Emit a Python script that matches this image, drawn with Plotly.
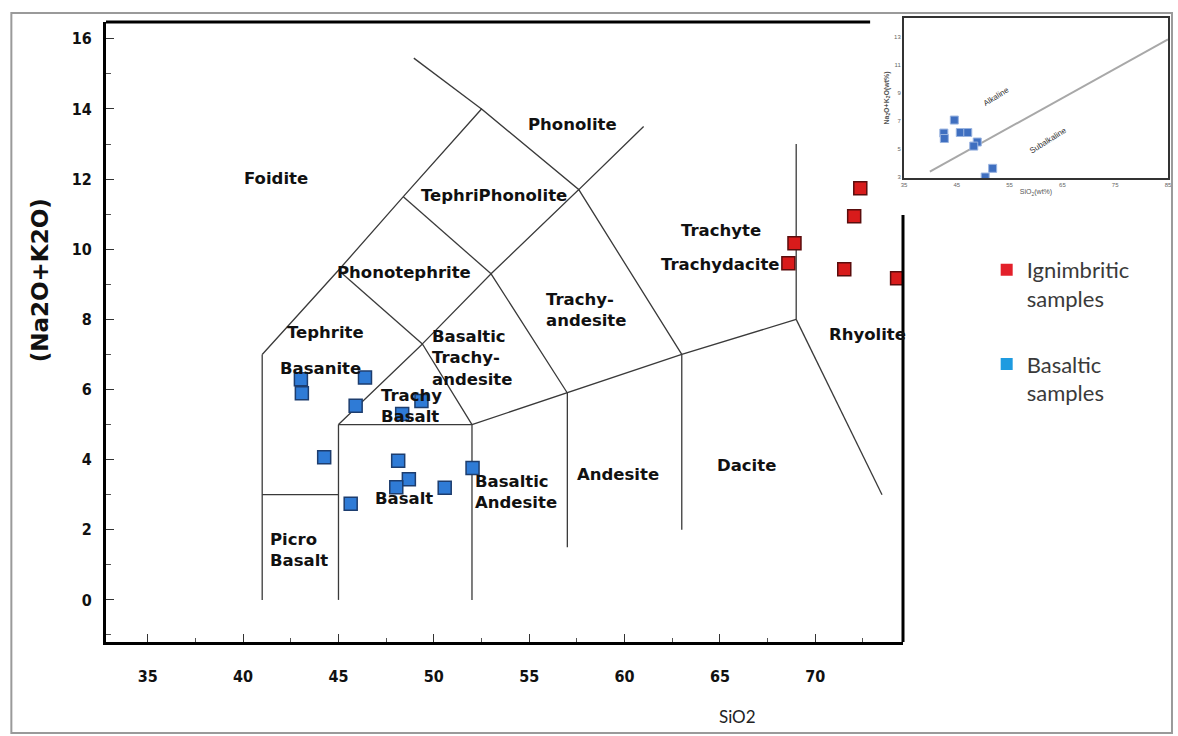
import plotly.graph_objects as go

# ---------------- data ----------------
ign_sio2 = [72.36, 72.04, 68.91, 68.59, 71.52, 74.29]
ign_alk = [11.74, 10.94, 10.17, 9.60, 9.43, 9.17]

bas_sio2 = [43.03, 43.08, 46.39, 45.90, 49.35, 48.34, 44.25, 48.13, 48.69, 48.03, 50.57, 52.03, 45.64]
bas_alk = [6.29, 5.89, 6.34, 5.54, 5.67, 5.30, 4.07, 3.97, 3.44, 3.21, 3.20, 3.76, 2.74]

inset_sio2 = [44.53, 42.55, 42.64, 45.66, 47.08, 48.87, 48.21, 51.79, 50.38]
inset_alk = [7.07, 6.14, 5.75, 6.18, 6.18, 5.50, 5.21, 3.62, 3.00]

divider_sio2 = [39.9, 85.0]
divider_alk = [3.38, 12.84]

# TAS field boundaries (SiO2, Na2O+K2O)
boundaries = [
    [(41, 0), (41, 7)],
    [(41, 3), (45, 3)],
    [(45, 0), (45, 5)],
    [(45, 5), (52, 5)],
    [(52, 0), (52, 5)],
    [(52, 5), (57, 5.9), (63, 7), (69, 8)],
    [(57, 1.5), (57, 5.9)],
    [(63, 2.0), (63, 7)],
    [(69, 8), (69, 13)],
    [(69, 8), (73.5, 3.0)],
    [(45, 5), (49.4, 7.3), (52, 5)],
    [(49.4, 7.3), (53, 9.3), (57, 5.9)],
    [(53, 9.3), (57.6, 11.7), (63, 7)],
    [(41, 7), (45, 9.4), (48.4, 11.5), (52.5, 14), (57.6, 11.7), (61, 13.5)],
    [(45, 9.4), (49.4, 7.3)],
    [(48.4, 11.5), (53, 9.3)],
    [(48.95, 15.45), (52.5, 14)],
]

field_names = ["Foidite", "Phonolite", "TephriPhonolite", "Phonotephrite",
               "Trachy-<br>andesite", "Tephrite", "Basaltic<br>Trachy-<br>andesite",
               "Basanite", "Trachy<br>Basalt", "Basalt", "Basaltic<br>Andesite",
               "Andesite", "Dacite", "Picro<br>Basalt", "Trachyte", "Trachydacite",
               "Rhyolite"]
field_sio2 = [41.74, 57.26, 53.18, 48.43, 57.99, 44.3, 51.98, 44.04, 48.85, 48.43,
              54.33, 59.66, 66.4, 42.94, 65.04, 64.99, 72.72]
field_alk = [12.02, 13.56, 11.54, 9.34, 8.26, 7.64, 6.89, 6.61, 5.53, 2.9,
             3.08, 3.59, 3.82, 1.42, 10.54, 9.57, 7.58]

x_ticks = [35, 40, 45, 50, 55, 60, 65, 70]
y_ticks = [0, 2, 4, 6, 8, 10, 12, 14, 16]
inset_x_ticks = [35, 45, 55, 65, 75, 85]
inset_y_ticks = [3, 5, 7, 9, 11, 13]

# ---------------- figure ----------------
bx, by = [], []
for seg in boundaries:
    for (sx, sy) in seg:
        bx.append(sx)
        by.append(sy)
    bx.append(None)
    by.append(None)

WIDE = "DejaVu Sans, Verdana, sans-serif"
COND = "DejaVu Sans Condensed, Liberation Sans Narrow, sans-serif"
SANS = "Liberation Sans, Arial, sans-serif"
LEG = "Lato, Liberation Sans, sans-serif"


def px_x(p):
    return (p - 106) / 1066.0


def px_y(p):
    return (642 - p) / 624.0


fig = go.Figure()
fig.add_trace(go.Scatter(x=bx, y=by, mode="lines", line=dict(color="#3a3a3a", width=1.3),
                         hoverinfo="skip", showlegend=False, xaxis="x", yaxis="y"))
fig.add_trace(go.Scatter(x=ign_sio2, y=ign_alk, mode="markers", showlegend=False,
                         marker=dict(symbol="square", size=13, color="#d81b1b",
                                     line=dict(color="#5a0d0d", width=1.5))))
fig.add_trace(go.Scatter(x=bas_sio2, y=bas_alk, mode="markers", showlegend=False,
                         marker=dict(symbol="square", size=13, color="#2f7bd6",
                                     line=dict(color="#1d3d6e", width=1.5))))
# legend entries
fig.add_trace(go.Scatter(x=[None], y=[None], mode="markers", name="Ignimbritic<br>samples",
                         legendgroup="a",
                         marker=dict(symbol="square", size=14, color="#e3202a")))
fig.add_trace(go.Scatter(x=[None], y=[None], mode="markers", name="Basaltic<br>samples",
                         legendgroup="b",
                         marker=dict(symbol="square", size=14, color="#1e9be0")))

# inset
fig.add_trace(go.Scatter(x=divider_sio2, y=divider_alk, mode="lines", xaxis="x2", yaxis="y2",
                         line=dict(color="#a8a8a8", width=2), showlegend=False, hoverinfo="skip"))
fig.add_trace(go.Scatter(x=inset_sio2, y=inset_alk, mode="markers", xaxis="x2", yaxis="y2",
                         showlegend=False,
                         marker=dict(symbol="square", size=8, color="#3f6fc0",
                                     line=dict(color="#9ab4e0", width=1))))

annotations = []
for name, sx, sy in zip(field_names, field_sio2, field_alk):
    annotations.append(dict(x=sx, y=sy, xref="x", yref="y", text=name,
                            showarrow=False, align="left",
                            font=dict(family=WIDE, size=16.5, color="#111", weight="bold")))

annotations += [
    dict(x=px_x(40), y=px_y(280), xref="paper", yref="paper",
         xanchor="center", yanchor="middle",
         text="(Na2O+K2O)", textangle=-90, showarrow=False,
         font=dict(family=WIDE, size=23, color="#111", weight="bold")),
    dict(x=px_x(740), y=px_y(716), xref="paper", yref="paper",
         xanchor="center", yanchor="middle", text="SiO2", showarrow=False,
         font=dict(family=LEG, size=17, color="#222")),
    dict(x=52.5, y=8.74, xref="x2", yref="y2", text="Alkaline", textangle=-32,
         showarrow=False, font=dict(family=SANS, size=8, color="#333")),
    dict(x=62.3, y=5.64, xref="x2", yref="y2", text="Subalkaline", textangle=-32,
         showarrow=False, font=dict(family=SANS, size=8, color="#333")),
]

shapes = [
    # outer grey frame
    dict(type="rect", xref="paper", yref="paper", x0=px_x(11), x1=px_x(1176),
         y0=px_y(733), y1=px_y(13), line=dict(color="#9a9a9a", width=2)),
    # main top frame (hidden behind inset on the right)
    dict(type="line", xref="paper", yref="paper", x0=0, x1=px_x(873),
         y0=px_y(22), y1=px_y(22), line=dict(color="#000", width=3)),
    # main right frame
    dict(type="line", xref="paper", yref="paper", x0=px_x(906), x1=px_x(906),
         y0=0, y1=px_y(215), line=dict(color="#000", width=3)),
]

fig.update_layout(
    width=1178, height=736,
    margin=dict(l=106, r=6, t=18, b=94),
    paper_bgcolor="white", plot_bgcolor="white",
    showlegend=True,
    legend=dict(x=px_x(990), y=px_y(249), xanchor="left", yanchor="top",
                font=dict(family=LEG, size=22, color="#3a3a3a"),
                valign="top", tracegroupgap=34, itemsizing="constant",
                bgcolor="rgba(0,0,0,0)"),
    xaxis=dict(domain=[0, px_x(906)], range=[32.81, 74.6], showgrid=False, zeroline=False,
               showline=True, linecolor="#000", linewidth=3, mirror=False,
               tickmode="array", tickvals=x_ticks, ticks="inside", ticklen=8,
               tickcolor="#333", tickwidth=1,
               minor=dict(dtick=2.5, ticks="inside", ticklen=4, tickcolor="#555"),
               tickfont=dict(family=COND, size=16, color="#111", weight="bold"),
               ticklabelstandoff=18),
    yaxis=dict(domain=[0, px_y(22)], range=[-1.2, 16.48], showgrid=False, zeroline=False,
               showline=True, linecolor="#000", linewidth=3, mirror=False,
               tickmode="array", tickvals=y_ticks, ticks="inside", ticklen=8,
               tickcolor="#333", tickwidth=1,
               minor=dict(dtick=1, ticks="inside", ticklen=5, tickcolor="#555"),
               tickfont=dict(family=COND, size=16, color="#111", weight="bold"),
               ticklabelstandoff=8),
    xaxis2=dict(domain=[px_x(907), 1], range=[35, 85], anchor="y2", showgrid=False,
                zeroline=False, showline=True, mirror=True, linecolor="#333", linewidth=2,
                tickmode="array", tickvals=inset_x_ticks, ticks="",
                tickfont=dict(family=SANS, size=6, color="#666"),
                title=dict(text="SiO<sub>2</sub>(wt%)", standoff=2,
                           font=dict(family=SANS, size=7, color="#555"))),
    yaxis2=dict(domain=[px_y(178), 1], range=[2.93, 14.36], anchor="x2", showgrid=False,
                zeroline=False, showline=True, mirror=True, linecolor="#333", linewidth=2,
                tickmode="array", tickvals=inset_y_ticks, ticks="",
                tickfont=dict(family=SANS, size=6, color="#666"),
                title=dict(text="Na<sub>2</sub>O+K<sub>2</sub>O(wt%)", standoff=4,
                           font=dict(family=SANS, size=7, color="#555", weight="bold"))),
    annotations=annotations,
    shapes=shapes,
)

fig.write_html("out.html", config={"displayModeBar": False},
               post_script="document.body.style.margin='0';")
